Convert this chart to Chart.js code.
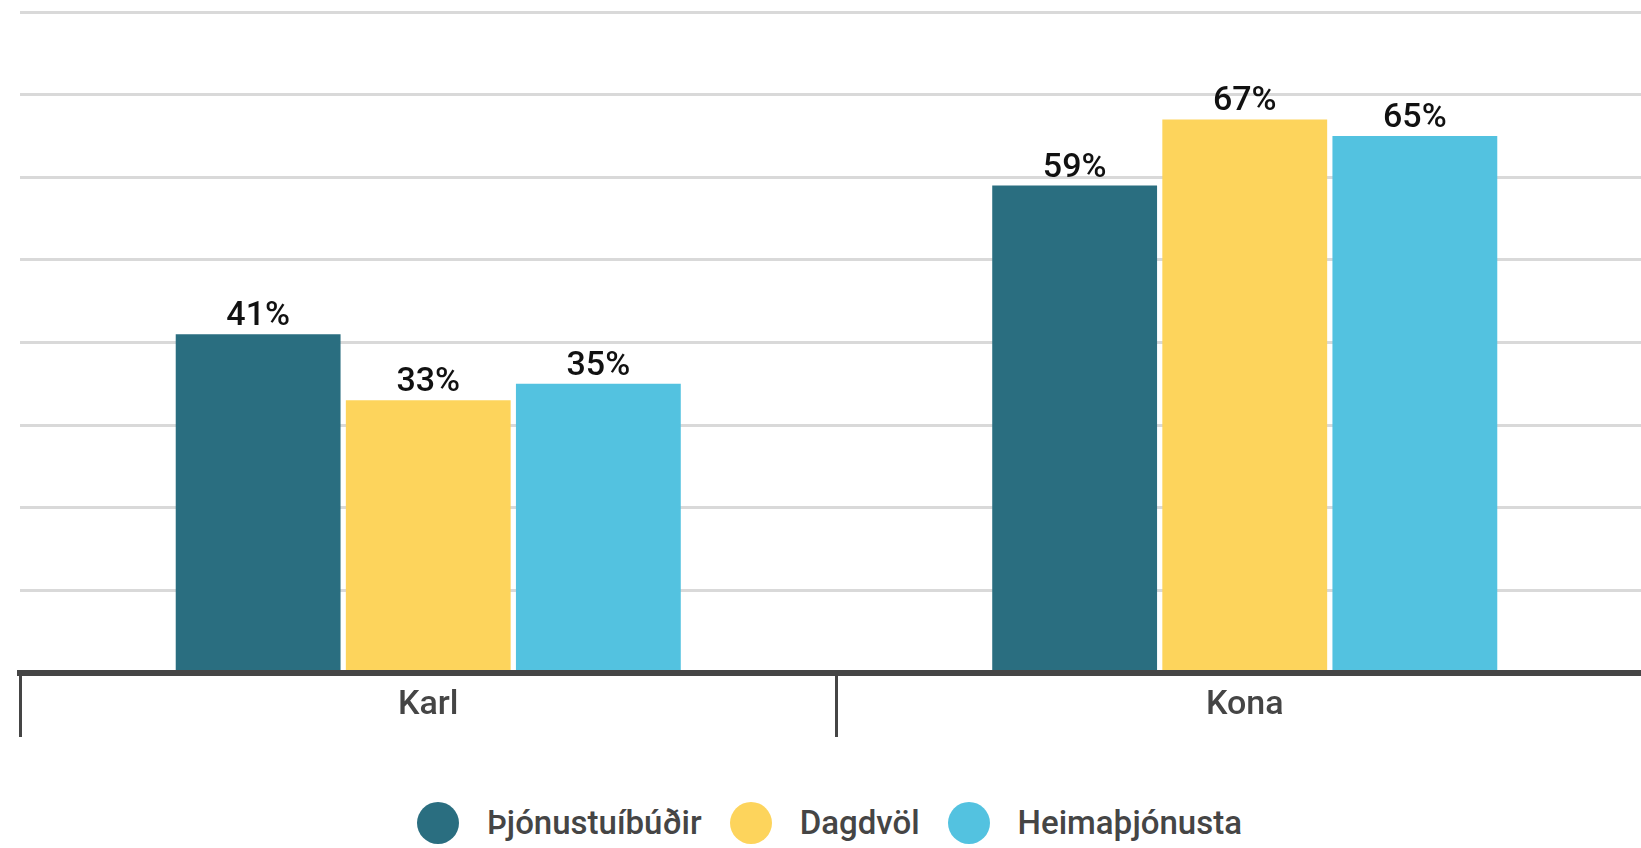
<!DOCTYPE html>
<html lang="is">
<head>
<meta charset="utf-8">
<title>Karl / Kona</title>
<script src="https://cdn.jsdelivr.net/npm/chart.js@4/dist/chart.umd.min.js"></script>
<style>
  html, body { margin: 0; padding: 0; background: #fff; overflow: hidden; }
  body { width: 1641px; height: 848px; position: relative; font-family: Roboto, sans-serif; }
  #wrap { position: absolute; left: 0; top: 0; width: 1653px; height: 760px; }
  #legend {
    position: absolute; left: 9px; top: 802px; width: 1641px; height: 42px;
    display: flex; justify-content: center; align-items: center;
  }
  .item { display: flex; align-items: center; margin: 0 14px; }
  .dot { width: 42px; height: 42px; border-radius: 50%; margin-right: 28px; }
  .lbl { font-size: 33px; font-weight: 500; color: #454545; line-height: 42px; }
</style>
</head>
<body>
<div id="wrap"><canvas id="chart"></canvas></div>
<div id="legend"></div>
<script>
// Data
const categories = ['Karl', 'Kona'];
const seriesNames = ['Þjónustuíbúðir', 'Dagdvöl', 'Heimaþjónusta'];
const thjonustuibudir = [41, 59];
const dagdvol = [33, 67];
const heimathjonusta = [35, 65];
const yTicks = [0, 10, 20, 30, 40, 50, 60, 70, 80];

const COLORS = ['#2a6e80', '#fdd45c', '#53c2e0'];
const AXIS = '#454545';

Chart.defaults.font.family = 'Roboto';

// value labels above each bar
const barLabels = {
    id: 'barLabels',
    afterDatasetsDraw(chart) {
        const ctx = chart.ctx;
        ctx.save();
        ctx.font = '500 34px Roboto';
        ctx.fillStyle = '#111';
        ctx.textAlign = 'center';
        ctx.textBaseline = 'alphabetic';
        chart.data.datasets.forEach((ds, i) => {
            chart.getDatasetMeta(i).data.forEach((bar, j) => {
                ctx.fillText(ds.data[j] + '%', bar.x, bar.y - 9);
            });
        });
        ctx.restore();
    }
};

const seriesData = [thjonustuibudir, dagdvol, heimathjonusta];

new Chart(document.getElementById('chart'), {
    type: 'bar',
    data: {
        labels: categories,
        datasets: seriesNames.map((name, i) => ({
            label: name,
            data: seriesData[i],
            backgroundColor: COLORS[i],
            borderWidth: 0,
            barPercentage: 0.969,
            categoryPercentage: 0.625
        }))
    },
    options: {
        responsive: true,
        maintainAspectRatio: false,
        animation: false,
        layout: { padding: { top: 12, left: 20, right: 0, bottom: 0 } },
        plugins: {
            legend: { display: false },
            tooltip: { enabled: false }
        },
        scales: {
            x: {
                grid: {
                    offset: true,
                    drawOnChartArea: false,
                    drawTicks: true,
                    tickLength: 64,
                    color: AXIS,
                    lineWidth: 3
                },
                border: { display: true, color: AXIS, width: 6, z: 1 },
                ticks: {
                    color: AXIS,
                    font: { size: 34, weight: '500' },
                    padding: -52
                },
                afterFit: scale => { scale.height = 87; }
            },
            y: {
                min: yTicks[0],
                max: yTicks[yTicks.length - 1],
                afterBuildTicks: scale => { scale.ticks = yTicks.map(v => ({ value: v })); },
                ticks: { display: false },
                border: { display: false },
                grid: { color: '#d9d9d9', lineWidth: 3, drawTicks: false }
            }
        }
    },
    plugins: [barLabels]
});

// legend
const legend = document.getElementById('legend');
seriesNames.forEach((name, i) => {
    const item = document.createElement('div');
    item.className = 'item';
    item.innerHTML = `<span class="dot" style="background:${COLORS[i]}"></span><span class="lbl">${name}</span>`;
    legend.appendChild(item);
});
</script>
</body>
</html>
